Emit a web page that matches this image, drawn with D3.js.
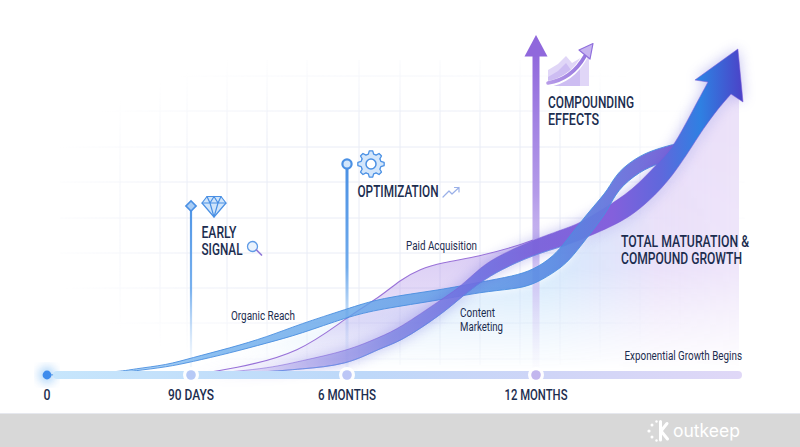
<!DOCTYPE html>
<html lang="en">
  <head>
    <meta charset="utf-8">
    <style>
      html, body { margin: 0; padding: 0; background: #fff; }
      svg { display: block; }
      text { font-family: Roboto, sans-serif; fill: #1c2d4f; }
    </style>
    <script src="https://cdn.jsdelivr.net/npm/d3@7"></script>
  </head>
  <body>
    <svg id="chart" width="800" height="447"></svg>
    <script>
      // Data
      const stopMonths = [0, 3, 6, 12, 18];
      const stopLabels = ["0", "90 DAYS", "6 MONTHS", "12 MONTHS"];

      const organicMonths = [0, 1.52, 1.79, 2.5, 3, 3.75, 4.46, 5.1, 6, 7.05, 8.97, 10.24, 11.3, 11.9, 12.5, 12.9, 13.28, 13.66, 14.1, 14.36, 15.03, 15.61, 16.05];
      const organicTop = [0, 3, 6, 10, 17, 27, 38, 51, 66, 77, 85, 93, 99, 105, 118, 135, 152, 168, 185, 203, 220, 227, 231];
      const organicBottom = [0, 2, 4, 8, 13, 22, 32, 41, 58, 66, 75, 83, 86, 90, 102, 112, 128, 145, 165, 185, 204, 212, 217];

      const contentTopMonths = [3, 4.46, 5.1, 6, 7.05, 7.68, 8.97, 9.6, 10.24, 10.86, 11.9, 12.9, 13.28, 13.92, 14.83, 15.55, 15.99, 16.57, 17.01];
      const contentTop = [0, 6, 14, 24, 38, 47, 75, 88, 108, 120, 135, 147, 152, 165, 185, 212, 227, 265, 293];
      const contentBottomMonths = [3, 4.46, 5.1, 6, 7.05, 7.68, 8.97, 9.6, 10.24, 10.86, 11.9, 12.9, 13.28, 14.45, 15.12, 15.99, 16.78, 17.27, 17.68];
      const contentBottom = [0, 3, 6, 10, 27, 33, 60, 77, 93, 105, 120, 130, 135, 152, 168, 198, 242, 265, 281];

      const paidMonths = [3, 3.81, 5.1, 6, 7.05, 7.68, 8.33, 8.97, 10.24, 11.3, 11.9];
      const paidValues = [0, 6, 22, 58, 78, 95, 106, 112, 119, 128, 135];

      const arrowHeadMonths = [16.63, 17.88, 18.03];
      const arrowHeadValues = [295, 326, 273];

      const milestoneMonths = [3, 6, 12];
      const milestoneValues = [169, 211, 320];

      // text blocks: [[line, width], ...], left, first line centre y
      const headingBlocks = [
        [[["EARLY", 35], ["SIGNAL", 41]], 201.5, 232],
        [[["OPTIMIZATION", 81]], 357.5, 191],
        [[["COMPOUNDING", 86], ["EFFECTS", 51]], 548, 102],
        [[["TOTAL MATURATION &", 128], ["COMPOUND GROWTH", 121]], 621, 241],
      ];
      const curveBlocks = [
        [[["Paid Acquisition", 71]], 406, 245],
        [[["Organic Reach", 64]], 231, 315],
        [[["Content", 35], ["Marketing", 43]], 460, 312],
        [[["Exponential Growth Begins", 117.5]], 624.5, 355],
      ];

      // Scales
      const x = d3.scaleLinear().domain(stopMonths).range([47, 191, 347, 536, 742]);
      const y = d3.scaleLinear().domain([0, 330]).range([375, 45]);

      const svg = d3.select("#chart");
      const defs = svg.append("defs");

      const addGradient = (id, x1, y1, x2, y2, stops) => {
        const g = defs.append("linearGradient").attr("id", id)
          .attr("gradientUnits", "userSpaceOnUse")
          .attr("x1", x1).attr("y1", y1).attr("x2", x2).attr("y2", y2);
        for (const [offset, color, opacity] of stops) {
          g.append("stop").attr("offset", offset).attr("stop-color", color).attr("stop-opacity", opacity);
        }
      };

      addGradient("contentFill", 190, 0, 745, 0, [
        [0, "#b9a5ec", 0.1], [0.2, "#9c90e4", 0.5], [0.36, "#7f84e2", 0.85], [0.52, "#6e6ee0", 0.92],
        [0.62, "#7a62da", 0.96], [0.76, "#8460dc", 1], [0.85, "#5f68dc", 1], [0.92, "#2f80e2", 1], [1, "#4d3fc6", 1],
      ]);
      addGradient("organicFill", 47, 0, 680, 0, [
        [0, "#bfe0fa", 0.7], [0.25, "#78b4ee", 0.85], [0.6, "#5a9ce6", 0.8], [0.8, "#5688e2", 0.92], [1, "#7d62d6", 1],
      ]);
      addGradient("paidFill", 0, 250, 0, 372, [[0, "#a888e6", 0.42], [0.6, "#b9a0ec", 0.32], [1, "#d6c8f4", 0.1]]);
      addGradient("underFill", 191, 0, 739, 0, [
        [0, "#cfe6fb", 0], [0.2, "#c2e0fa", 0.8], [0.65, "#c6e2fb", 0.85], [0.85, "#e6dbf8", 0.95], [1, "#ece2f9", 1],
      ]);
      addGradient("underFade", 0, 130, 0, 372, [[0, "#fff", 1], [0.58, "#fff", 0.85], [0.78, "#fff", 0.42], [1, "#fff", 0]]);
      addGradient("timeline", 47, 0, 742, 0, [
        [0, "#c7e6fc", 1], [0.45, "#bdd8f9", 1], [0.72, "#cfd5f7", 1], [1, "#e0d8f7", 1],
      ]);
      addGradient("stemEarly", 0, 206, 0, 358, [[0, "#4f95e6", 1], [0.55, "#6aa8ec", 0.9], [1, "#a9cdf5", 0.15]]);
      addGradient("stemMid", 0, 164, 0, 352, [[0, "#4a90e4", 1], [0.55, "#70abec", 1], [1, "#a9cdf5", 0.15]]);
      addGradient("stemLate", 0, 50, 0, 370, [
        [0, "#9068dc", 1], [0.45, "#b096e8", 0.95], [0.75, "#cdbef2", 0.7], [1, "#e2dcf8", 0.05],
      ]);
      addGradient("iconCurve", 548, 0, 593, 0, [[0, "#b79be8", 1], [1, "#8f6fdc", 1]]);

      defs.append("filter").attr("id", "blur4")
        .attr("x", "-20%").attr("y", "-20%").attr("width", "140%").attr("height", "140%")
        .append("feGaussianBlur").attr("stdDeviation", 4);
      defs.append("filter").attr("id", "blur7")
        .attr("x", "-30%").attr("y", "-30%").attr("width", "160%").attr("height", "160%")
        .append("feGaussianBlur").attr("stdDeviation", 7);

      const gridFade = defs.append("radialGradient").attr("id", "gridFade")
        .attr("gradientUnits", "userSpaceOnUse")
        .attr("cx", 400).attr("cy", 215).attr("r", 1)
        .attr("gradientTransform", "translate(400 215) scale(370 175) translate(-400 -215)");
      gridFade.append("stop").attr("offset", 0.55).attr("stop-color", "#fff");
      gridFade.append("stop").attr("offset", 1).attr("stop-color", "#000");
      defs.append("mask").attr("id", "gridMask").attr("maskUnits", "userSpaceOnUse")
        .attr("x", 0).attr("y", 0).attr("width", 800).attr("height", 447)
        .append("rect").attr("width", 800).attr("height", 447).attr("fill", "url(#gridFade)");
      defs.append("mask").attr("id", "underMask").attr("maskUnits", "userSpaceOnUse")
        .attr("x", 0).attr("y", 0).attr("width", 800).attr("height", 447)
        .append("rect").attr("width", 800).attr("height", 447).attr("fill", "url(#underFade)");
      defs.append("clipPath").attr("id", "underClip")
        .append("rect").attr("x", 0).attr("y", 0).attr("width", 739).attr("height", 447);

      // Helpers
      const zip = (months, values) => months.map((m, i) => [m, values[i]]);
      const line = d3.line().x(d => x(d[0])).y(d => y(d[1])).curve(d3.curveBasis);
      const bandPath = (top, bottom) =>
        line(top) + line([...bottom].reverse()).replace(/^M/, "L") + "Z";

      const organicUp = zip(organicMonths, organicTop);
      const organicDown = zip(organicMonths, organicBottom);
      const contentUp = zip(contentTopMonths, contentTop);
      const contentDown = zip(contentBottomMonths, contentBottom);
      const paid = zip(paidMonths, paidValues);
      const head = zip(arrowHeadMonths, arrowHeadValues);

      const arrowPath = line(contentUp)
        + head.map(d => `L${x(d[0])},${y(d[1])}`).join("")
        + line([...contentDown].reverse()).replace(/^M/, "L") + "Z";

      const addBlocks = (blocks, g, size, weight, pitch) => {
        for (const [lines, left, cy] of blocks) {
          const t = g.append("text").attr("font-size", size).attr("font-weight", weight);
          lines.forEach(([label, width], i) => {
            t.append("tspan").attr("x", left).attr("y", cy + i * pitch)
              .attr("dy", "0.36em")
              .attr("textLength", width).attr("lengthAdjust", "spacingAndGlyphs")
              .text(label);
          });
        }
      };

      // Grid
      const gridColumns = [120, 160, 187, 227, 267, 307, 359, 400, 440, 480, 520, 560, 600, 640, 680];
      const gridRows = [76, 111, 147, 182, 218, 253, 288, 323, 359];
      const grid = svg.append("g").attr("mask", "url(#gridMask)")
        .attr("stroke", "#e9ecf6").attr("stroke-width", 1);
      grid.selectAll(".col").data(gridColumns).join("line").attr("class", "col")
        .attr("x1", d => d).attr("x2", d => d).attr("y1", 60).attr("y2", 365);
      grid.selectAll(".row").data(gridRows).join("line").attr("class", "row")
        .attr("x1", 60).attr("x2", 745).attr("y1", d => d).attr("y2", d => d);

      // Soft fill under the curves: organic edge first, then the big arrow's edge
      const underEdge = organicDown.filter(d => d[0] >= 3 && d[0] <= 12.9)
        .concat(contentDown.filter(d => d[0] >= 13.28))
        .concat([[18.6, 330]]);
      const underArea = d3.area().x(d => x(d[0])).y0(y(0) - 2).y1(d => y(d[1])).curve(d3.curveBasis);
      svg.append("g").attr("mask", "url(#underMask)").attr("clip-path", "url(#underClip)")
        .append("path").attr("d", underArea(underEdge))
        .attr("fill", "url(#underFill)").attr("filter", "url(#blur4)");

      // Milestone stems
      const stemWidth = [2.2, 3, 7];
      const stemColors = ["url(#stemEarly)", "url(#stemMid)", "url(#stemLate)"];
      svg.selectAll(".stem").data(milestoneMonths).join("rect").attr("class", "stem")
        .attr("x", (d, i) => x(d) - stemWidth[i] / 2)
        .attr("y", (d, i) => y(milestoneValues[i]))
        .attr("width", (d, i) => stemWidth[i])
        .attr("height", (d, i) => y(0) - 4 - y(milestoneValues[i]))
        .attr("fill", (d, i) => stemColors[i]);

      // 90 days diamond, 6 month ring, 12 month arrowhead
      const tipEarly = [x(milestoneMonths[0]), y(milestoneValues[0])];
      svg.append("path").attr("transform", `translate(${tipEarly}) rotate(45)`)
        .attr("d", "M-3.6,-3.6H3.6V3.6H-3.6Z")
        .attr("fill", "#a9cdf5").attr("stroke", "#4a90e4").attr("stroke-width", 1.6);
      svg.append("circle").attr("cx", x(6)).attr("cy", y(milestoneValues[1])).attr("r", 4.6)
        .attr("fill", "#d3e6fb").attr("stroke", "#4a90e4").attr("stroke-width", 2.2);
      svg.append("path").attr("transform", `translate(${x(12)},${y(milestoneValues[2])})`)
        .attr("d", "M0,-20L11.5,1.5H-11.5Z").attr("fill", "#9068dc");

      // Curves
      svg.append("path").attr("d", bandPath(paid, contentUp.filter(d => d[0] <= 11.9)))
        .attr("fill", "url(#paidFill)");
      svg.append("path").attr("d", line(paid))
        .attr("fill", "none").attr("stroke", "#9a72d8").attr("stroke-width", 1.1);

      // organic is split by clip: under the arrow at both ends, over it at the second crossing
      const crossingStart = x(12);
      const crossingEnd = x(15);
      const outerClip = defs.append("clipPath").attr("id", "organicOuter");
      outerClip.append("rect").attr("x", 0).attr("y", 0).attr("width", crossingStart).attr("height", 447);
      outerClip.append("rect").attr("x", crossingEnd).attr("y", 0).attr("width", 800 - crossingEnd).attr("height", 447);
      defs.append("clipPath").attr("id", "organicMid")
        .append("rect").attr("x", crossingStart).attr("y", 0).attr("width", crossingEnd - crossingStart).attr("height", 447);

      const drawOrganic = clipId => {
        const g = svg.append("g").attr("clip-path", `url(#${clipId})`);
        g.append("path").attr("d", bandPath(organicUp, organicDown)).attr("fill", "url(#organicFill)");
        for (const edge of [organicUp, organicDown]) {
          g.append("path").attr("d", line(edge))
            .attr("fill", "none").attr("stroke", "#4a8ee0").attr("stroke-width", 0.9);
        }
      };
      drawOrganic("organicOuter");

      svg.append("path").attr("d", arrowPath)
        .attr("fill", "#5a55d8").attr("opacity", 0.38).attr("filter", "url(#blur7)");
      svg.append("path").attr("d", arrowPath)
        .attr("fill", "url(#contentFill)").attr("stroke", "#7a5cd8").attr("stroke-opacity", 0.6).attr("stroke-width", 0.9);
      svg.append("path").attr("d", line(contentDown.filter(d => d[0] <= 12.9)))
        .attr("fill", "none").attr("stroke", "#5590e6").attr("stroke-opacity", 0.7).attr("stroke-width", 1);

      drawOrganic("organicMid");

      // Timeline
      const timeline = svg.append("g");
      timeline.append("circle").attr("cx", x(0)).attr("cy", y(0)).attr("r", 9)
        .attr("fill", "#9fcdf8").attr("opacity", 0.7).attr("filter", "url(#blur4)");
      timeline.append("rect").attr("x", x(0) + 6).attr("y", y(0) - 4)
        .attr("width", x(18) - x(0) - 6).attr("height", 8).attr("rx", 4)
        .attr("fill", "url(#timeline)");
      const stopColors = ["#3f8cec", "#b6c9f6", "#bcc6f6", "#c2b6ee"];
      timeline.selectAll(".halo").data(stopMonths.slice(1, 4)).join("circle").attr("class", "halo")
        .attr("cx", d => x(d)).attr("cy", y(0)).attr("r", 8).attr("fill", "#fff").attr("opacity", 0.95);
      timeline.selectAll(".stop").data(stopMonths.slice(0, 4)).join("circle").attr("class", "stop")
        .attr("cx", d => x(d)).attr("cy", y(0)).attr("r", (d, i) => i ? 4.8 : 4.4)
        .attr("fill", (d, i) => stopColors[i]);
      const stopWidths = [7, 46, 58, 63];
      timeline.selectAll(".tick").data(stopMonths.slice(0, 4)).join("text").attr("class", "tick")
        .attr("x", d => x(d)).attr("y", 394.5).attr("dy", "0.36em")
        .attr("text-anchor", "middle").attr("font-size", 14.5).attr("font-weight", 500)
        .attr("textLength", (d, i) => stopWidths[i]).attr("lengthAdjust", "spacingAndGlyphs")
        .text((d, i) => stopLabels[i]);

      // Text
      const labels = svg.append("g");
      addBlocks(headingBlocks, labels, 17, 500, 17);
      addBlocks(curveBlocks, labels, 12.5, 400, 14);

      // Icons
      const icons = svg.append("g").attr("fill", "none").attr("stroke-linejoin", "round").attr("stroke-linecap", "round");

      // gem
      const gem = icons.append("g").attr("stroke", "#4a90e4").attr("stroke-width", 1.2);
      gem.append("path").attr("d", "M207,196.5H221L226,203L214,217L202,203Z").attr("fill", "#cfe4fa");
      gem.append("path").attr("d", "M202,203H226M207,196.5L210,203L214,217L218,203L221,196.5M210,203L214,196.5L218,203");

      // gear
      const gearCentre = [371, 164];
      const gearPoints = d3.range(48).map(i => {
        const a = i / 48 * 2 * Math.PI;
        const r = (i + 1) % 6 < 3 ? 13.2 : 10.2;
        return [gearCentre[0] + r * Math.cos(a), gearCentre[1] + r * Math.sin(a)];
      });
      icons.append("path").attr("d", d3.line().curve(d3.curveLinearClosed)(gearPoints))
        .attr("fill", "#d3e6fb").attr("stroke", "#4a90e4").attr("stroke-width", 1.3);
      icons.append("circle").attr("cx", gearCentre[0]).attr("cy", gearCentre[1]).attr("r", 5)
        .attr("fill", "#fff").attr("stroke", "#4a90e4").attr("stroke-width", 1.5);

      // magnifier
      icons.append("circle").attr("cx", 252.5).attr("cy", 246.5).attr("r", 5)
        .attr("fill", "#eaf3fd").attr("stroke", "#5f9be6").attr("stroke-width", 1.3);
      icons.append("path").attr("d", "M256.5,250L261.5,255").attr("stroke", "#8f78d8").attr("stroke-width", 1.7);

      // small trend arrow
      icons.append("path").attr("d", "M443,197L449,191L452,194L459,187.5M454.5,187.5H459V192")
        .attr("stroke", "#9ab0e8").attr("stroke-width", 1.2);

      // compounding icon
      icons.append("path").attr("d", "M548,70L558,64L566,56L572,63L589,53V86H548Z").attr("fill", "#e0d6f7");
      icons.append("path").attr("d", "M548,77L558,71L566,63L571,70L580,62V86H548Z").attr("fill", "#cdbdf2");
      icons.append("path").attr("d", "M548,84Q572,80 585,56")
        .attr("stroke", "#fff").attr("stroke-width", 6);
      icons.append("path").attr("d", "M548,83Q572,79 585,56")
        .attr("stroke", "url(#iconCurve)").attr("stroke-width", 3.6);
      icons.append("path").attr("d", "M593,43.5L579,50L590,59Z")
        .attr("fill", "#c7b4f0").attr("stroke", "#8f6fdc").attr("stroke-width", 1.2);

      // Footer
      svg.append("rect").attr("y", 413.5).attr("width", 800).attr("height", 33.5).attr("fill", "#d8d8d8");
      svg.append("line").attr("x1", 0).attr("x2", 800).attr("y1", 413.5).attr("y2", 413.5)
        .attr("stroke", "#e6e8ee").attr("stroke-width", 1);

      const logo = svg.append("g").attr("fill", "#fff");
      for (const [cx, cy, r] of [[652, 425, 1.5], [649, 431, 1.6], [652, 437, 1.5], [656.5, 421.5, 1.2], [656.5, 440.5, 1.2]]) {
        logo.append("circle").attr("cx", cx).attr("cy", cy).attr("r", r);
      }
      logo.append("path").attr("d", "M660.5,421.5V440M667,423.5L661,431L667.5,439")
        .attr("fill", "none").attr("stroke", "#fff").attr("stroke-width", 3).attr("stroke-linecap", "round");
      logo.append("text").attr("x", 673).attr("y", 431).attr("dy", "0.33em")
        .attr("font-size", 18).attr("font-weight", 400)
        .attr("textLength", 67).attr("lengthAdjust", "spacingAndGlyphs")
        .style("font-family", "Inter, sans-serif").style("fill", "#fff").text("outkeep");
    </script>
  </body>
</html>
